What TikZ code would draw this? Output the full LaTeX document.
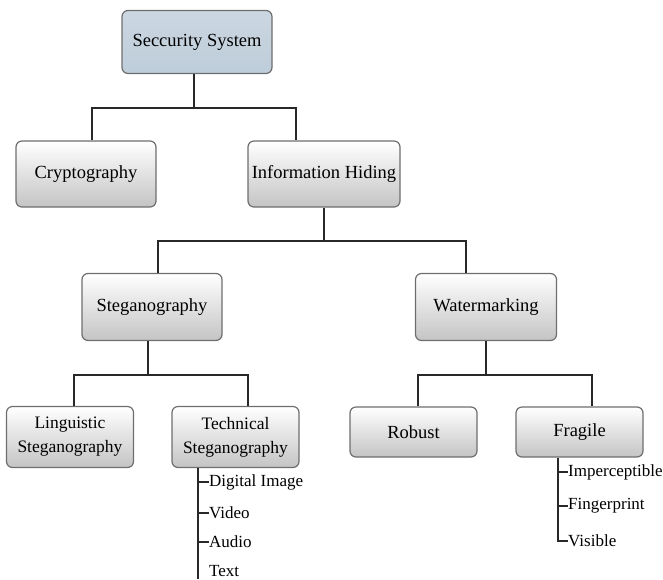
\documentclass[tikz,border=0pt]{standalone}
\usepackage{fontspec}
\setmainfont{Liberation Serif}
\begin{document}
\begin{tikzpicture}[x=1pt,y=-1pt,
  box/.style={draw=boxborder, line width=1.2pt, rounded corners=6pt,
    top color=white, bottom color=boxgray, align=center,
    inner sep=0pt, font=\fontsize{18.5}{20}\selectfont},
  twoline/.style={font=\fontsize{17.5}{24}\selectfont},
  rootbox/.style={box, top color=rootblue!80!white, bottom color=rootblue},
  link/.style={draw=linegray, line width=1.6pt},
  leaf/.style={anchor=west, inner sep=0pt, font=\fontsize{17}{18}\selectfont}]
\definecolor{boxborder}{RGB}{110,110,110}
\definecolor{boxgray}{RGB}{196,196,196}
\definecolor{rootblue}{RGB}{190,205,218}
\definecolor{linegray}{RGB}{40,40,40}
\useasboundingbox (0,0) rectangle (663,579);

% boxes
\node[rootbox, minimum width=150, minimum height=63] (sec) at (197,42) {Seccurity System};
\node[box, minimum width=140, minimum height=66] (cry) at (86,174) {Cryptography};
\node[box, minimum width=152, minimum height=66] (ih) at (324,174) {Information Hiding};
\node[box, minimum width=140, minimum height=67] (stg) at (152,307) {Steganography};
\node[box, minimum width=141, minimum height=67] (wm) at (486,307) {Watermarking};
\node[box, twoline, minimum width=127, minimum height=61] (lin) at (70,437) {Linguistic\\Steganography};
\node[box, twoline, minimum width=127, minimum height=61] (tec) at (235.5,437) {Technical\\Steganography};
\node[box, minimum width=127, minimum height=50] (rob) at (413.5,432) {Robust};
\node[box, minimum width=127, minimum height=50] (fra) at (579.5,432) {Fragile};

% tree connectors
\coordinate (j1) at (194,108);
\draw[link] (sec.south -| j1) -- (j1);
\draw[link] (cry.north -| 92,0) -- (92,108) -- (296,108) -- (ih.north -| 296,0);
\coordinate (j2) at (324,241);
\draw[link] (ih.south) -- (j2);
\draw[link] (stg.north -| 158,0) -- (158,241) -- (466,241) -- (wm.north -| 466,0);
\coordinate (j3) at (148,375);
\draw[link] (stg.south -| j3) -- (j3);
\draw[link] (lin.north -| 74,0) -- (74,375) -- (248,375) -- (tec.north -| 248,0);
\coordinate (j4) at (486,375);
\draw[link] (wm.south) -- (j4);
\draw[link] (rob.north -| 418,0) -- (418,375) -- (592,375) -- (fra.north -| 592,0);

% technical steganography list
\node[leaf] (dig) at (209,482) {Digital Image};
\node[leaf] (vid) at (209,513) {Video};
\node[leaf] (aud) at (209,542) {Audio};
\node[leaf] (txt) at (209,571) {Text};
\coordinate (tend) at (198,579);
\draw[link] (tec.south -| tend) -- (tend);
\draw[link] (198,482) -- (dig.west);
\draw[link] (198,513) -- (vid.west);
\draw[link] (198,542) -- (aud.west);

% fragile list
\node[leaf] (imp) at (568,472) {Imperceptible};
\node[leaf] (fin) at (568,506) {Fingerprint};
\node[leaf] (vis) at (568,541) {Visible};
\draw[link] (fra.south -| 558,0) -- (558,541) -- (vis.west);
\draw[link] (558,472) -- (imp.west);
\draw[link] (558,506) -- (fin.west);
\end{tikzpicture}
\end{document}
